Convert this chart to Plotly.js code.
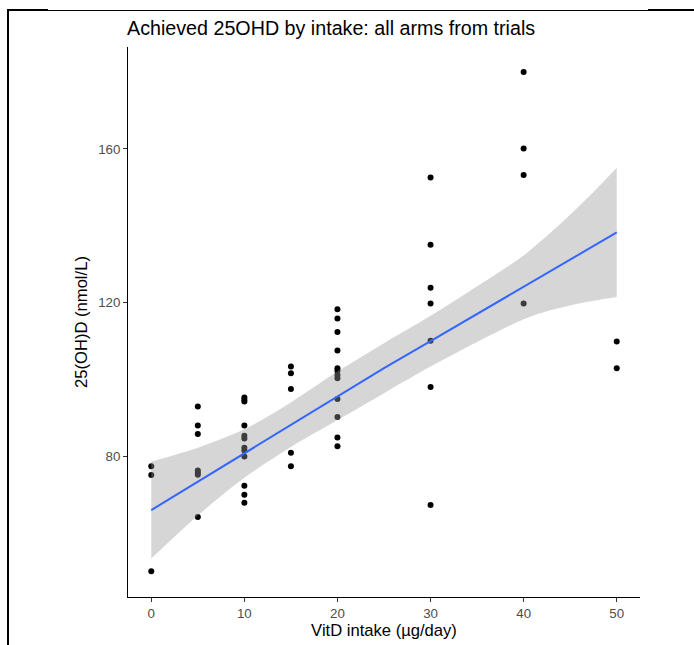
<!DOCTYPE html>
<html>
<head>
<meta charset="utf-8">
<script src="https://cdn.plot.ly/plotly-3.0.1.min.js"></script>
<style>
  html, body { margin: 0; padding: 0; background: #fff; }
  #wrap { position: relative; width: 694px; height: 645px; }
  #chart { position: absolute; left: 0; top: 0; width: 694px; height: 645px; }
  .fl { position: absolute; background: #000; }
</style>
</head>
<body>
<div id="wrap">
  <div id="chart"></div>
  <div class="fl" style="left:7px; top:10px; width:687px; height:1px;"></div>
  <div class="fl" style="left:7px; top:9px; width:41px; height:2px;"></div>
  <div class="fl" style="left:648px; top:9px; width:46px; height:2px;"></div>
  <div class="fl" style="left:7px; top:9px; width:2px; height:636px;"></div>
</div>
<script>
// Trial arms: vitamin D intake (µg/day) and achieved 25(OH)D (nmol/L)
const intake = [
  0, 0, 0,
  5, 5, 5, 5, 5, 5, 5,
  10, 10, 10, 10, 10, 10, 10, 10, 10, 10, 10, 10,
  15, 15, 15, 15, 15,
  20, 20, 20, 20, 20, 20, 20, 20, 20, 20, 20, 20,
  30, 30, 30, 30, 30, 30, 30,
  40, 40, 40, 40,
  50, 50
];
const achieved = [
  77.5, 75.2, 50.2,
  93.0, 88.1, 85.9, 76.4, 75.8, 75.3, 64.3,
  95.4, 94.8, 94.3, 88.1, 85.4, 84.7, 82.3, 81.6, 80.0, 72.4, 70.1, 68.0,
  103.4, 101.7, 97.6, 81.0, 77.5,
  118.3, 115.9, 112.4, 107.6, 103.0, 102.3, 101.2, 100.4, 95.0, 90.3, 85.0, 82.7,
  152.6, 135.1, 123.9, 119.8, 110.1, 98.1, 67.4,
  180.0, 160.1, 153.2, 119.8,
  109.9, 103.0
];

// Smoothed fit and its confidence band
const fitX     = [0, 5, 10, 15, 20, 25, 30, 35, 40, 42.5, 45, 47.5, 50];
const fitY     = [66.1, 73.5, 80.8, 88.3, 95.8, 103.0, 110.0, 117.1, 124.2, 127.7, 131.2, 134.8, 138.3];
const bandUp   = [78.7, 82.3, 87.1, 94.1, 102.1, 109.5, 116.6, 124.3, 132.3, 137.4, 142.9, 148.8, 155.1];
const bandLow  = [53.5, 64.7, 74.5, 82.5, 89.5, 96.5, 103.4, 109.8, 115.7, 117.8, 119.3, 120.5, 121.5];

const xTicks = [0, 10, 20, 30, 40, 50];
const yTicks = [80, 120, 160];

const pts = {
  x: intake, y: achieved, type: 'scatter', mode: 'markers',
  marker: { color: '#000000', size: 6 },
  hoverinfo: 'x+y', showlegend: false
};
const bandLower = {
  x: fitX, y: bandLow, type: 'scatter', mode: 'lines',
  line: { width: 0, color: 'rgba(0,0,0,0)', shape: 'spline', smoothing: 0.8 },
  hoverinfo: 'skip', showlegend: false
};
const bandUpper = {
  x: fitX, y: bandUp, type: 'scatter', mode: 'lines', fill: 'tonexty',
  fillcolor: 'rgba(153,153,153,0.4)',
  line: { width: 0, color: 'rgba(0,0,0,0)', shape: 'spline', smoothing: 0.8 },
  hoverinfo: 'skip', showlegend: false
};
const fit = {
  x: fitX, y: fitY, type: 'scatter', mode: 'lines',
  line: { color: '#3366FF', width: 2 },
  showlegend: false
};

const FF = 'Liberation Sans, Arial, sans-serif';
const axisFont = { family: FF, size: 13.3, color: '#4D4D4D' };
const layout = {
  width: 694, height: 645,
  margin: { l: 128, r: 54, t: 47, b: 48 },
  paper_bgcolor: 'rgba(0,0,0,0)', plot_bgcolor: '#FFFFFF',
  font: { family: FF, color: '#000' },
  title: {
    text: 'Achieved 25OHD by intake: all arms from trials',
    font: { family: FF, size: 19.7, color: '#000' },
    x: 0, xref: 'paper', xanchor: 'left', y: 1, yref: 'paper', yanchor: 'bottom',
    pad: { b: 12, l: -1 }
  },
  xaxis: {
    range: [-2.5, 52.5], tickvals: xTicks, ticktext: xTicks.map(String),
    showgrid: false, zeroline: false, showline: true, linecolor: '#000', linewidth: 1,
    ticks: 'outside', ticklen: 4, tickcolor: '#333333', tickwidth: 1,
    tickfont: axisFont,
    title: { text: 'VitD intake (µg/day)', font: { family: FF, size: 16.6, color: '#000' }, standoff: 4 }
  },
  yaxis: {
    range: [43.5, 186.5], tickvals: yTicks, ticktext: yTicks.map(String),
    showgrid: false, zeroline: false, showline: true, linecolor: '#000', linewidth: 1,
    ticks: 'outside', ticklen: 4, tickcolor: '#333333', tickwidth: 1,
    tickfont: axisFont,
    title: { text: '25(OH)D (nmol/L)', font: { family: FF, size: 16.6, color: '#000' }, standoff: 6 }
  }
};

Plotly.newPlot('chart', [pts, bandLower, bandUpper, fit], layout, { displayModeBar: false, staticPlot: true });
</script>
</body>
</html>
